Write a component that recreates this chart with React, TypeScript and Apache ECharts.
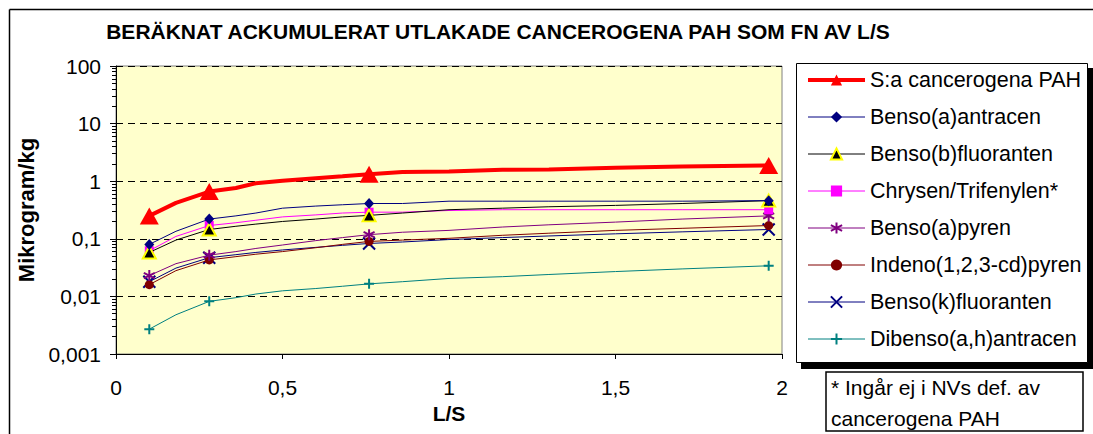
import React, { useEffect, useRef } from "react";
import * as echarts from "echarts";

const FONT = '"Liberation Sans", Arial, Helvetica, sans-serif';

const titleText = "BERÄKNAT ACKUMULERAT UTLAKADE CANCEROGENA PAH SOM FN AV L/S";
const xAxisName = "L/S";
const yAxisName = "Mikrogram/kg";
const footnoteLines = ["* Ingår ej i NVs def. av", "cancerogena PAH"];

const xTickLabels = ["0", "0,5", "1", "1,5", "2"];
const yTickLabels = ["0,001", "0,01", "0,1", "1", "10", "100"];

// L/S points of the computed curves
const LS = [0.1, 0.18, 0.28, 0.36, 0.42, 0.5, 0.6, 0.68, 0.76, 0.86, 1.0, 1.16, 1.3, 1.5, 1.7, 1.96];
// L/S points that carry a marker
const markerLS = [0.1, 0.28, 0.76, 1.96];

const seriesNames = [
  "S:a cancerogena PAH",
  "Benso(a)antracen",
  "Benso(b)fluoranten",
  "Chrysen/Trifenylen*",
  "Benso(a)pyren",
  "Indeno(1,2,3-cd)pyren",
  "Benso(k)fluoranten",
  "Dibenso(a,h)antracen",
];

const sumPAH = [0.25, 0.42, 0.66, 0.76, 0.92, 1.02, 1.13, 1.22, 1.32, 1.45, 1.48, 1.58, 1.6, 1.72, 1.8, 1.88];
const bensoAantracen = [0.08, 0.135, 0.22, 0.25, 0.28, 0.34, 0.37, 0.39, 0.41, 0.41, 0.45, 0.45, 0.45, 0.45, 0.45, 0.46];
const bensoBfluoranten = [0.058, 0.095, 0.145, 0.165, 0.18, 0.2, 0.22, 0.24, 0.255, 0.28, 0.32, 0.34, 0.36, 0.38, 0.41, 0.46];
const chrysen = [0.062, 0.11, 0.17, 0.19, 0.21, 0.24, 0.26, 0.28, 0.29, 0.29, 0.31, 0.32, 0.32, 0.32, 0.32, 0.32];
const bensoApyren = [0.023, 0.037, 0.052, 0.06, 0.068, 0.078, 0.093, 0.105, 0.118, 0.13, 0.14, 0.16, 0.175, 0.195, 0.22, 0.25];
const indenopyren = [0.016, 0.028, 0.043, 0.049, 0.054, 0.06, 0.07, 0.08, 0.09, 0.095, 0.102, 0.115, 0.125, 0.14, 0.152, 0.17];
const bensoKfluoranten = [0.018, 0.031, 0.047, 0.053, 0.058, 0.064, 0.071, 0.077, 0.083, 0.088, 0.097, 0.105, 0.112, 0.122, 0.132, 0.145];
const dibensoAHantracen = [0.0027, 0.0048, 0.0082, 0.0095, 0.011, 0.0125, 0.0137, 0.015, 0.0165, 0.018, 0.0205, 0.022, 0.024, 0.027, 0.03, 0.034];

const seriesValues = [
  sumPAH,
  bensoAantracen,
  bensoBfluoranten,
  chrysen,
  bensoApyren,
  indenopyren,
  bensoKfluoranten,
  dibensoAHantracen,
];

const ASTERISK = "path://M5,0L5,10M0.7,2.5L9.3,7.5M0.7,7.5L9.3,2.5";
const CROSS = "path://M0,0L10,10M10,0L0,10";
const PLUS = "path://M5,0L5,10M0,5L10,5";

const seriesStyles: any[] = [
  { line: "#FF0000", width: 4, symbol: "triangle", size: [19, 17], fill: "#FF0000", border: "#FF0000", bw: 0 },
  { line: "#000080", width: 1, symbol: "diamond", size: [10, 11], fill: "#000080", border: "#000080", bw: 0 },
  { line: "#000000", width: 1, symbol: "triangle", size: [13, 12], fill: "#000000", border: "#FFFF00", bw: 2 },
  { line: "#FF00FF", width: 1, symbol: "rect", size: 9, fill: "#FF00FF", border: "#FF00FF", bw: 0 },
  { line: "#800080", width: 1, symbol: ASTERISK, size: 11, fill: "#800080", border: "#800080", bw: 2 },
  { line: "#800000", width: 1, symbol: "circle", size: 9, fill: "#800000", border: "#800000", bw: 0 },
  { line: "#000080", width: 1, symbol: CROSS, size: 12, fill: "#000080", border: "#000080", bw: 2 },
  { line: "#008080", width: 1, symbol: PLUS, size: 10, fill: "#008080", border: "#008080", bw: 2 },
];

export default function App() {
  const ref = useRef<HTMLDivElement>(null);

  useEffect(() => {
    if (!ref.current) return;
    const chart = echarts.init(ref.current, undefined, { renderer: "svg" });

    const series = seriesNames.map((name, si) => {
      const st = seriesStyles[si];
      const vals = seriesValues[si];
      return {
        name,
        type: "line",
        z: 10 - si,
        symbol: st.symbol,
        symbolSize: st.size,
        showSymbol: true,
        clip: false,
        lineStyle: { color: st.line, width: st.width },
        itemStyle: { color: st.fill, borderColor: st.border, borderWidth: st.bw },
        emphasis: { disabled: true },
        data: LS.map((x, i) =>
          markerLS.includes(x)
            ? { value: [x, vals[i]] }
            : { value: [x, vals[i]], symbol: "none" }
        ),
      };
    });

    const option: any = {
      animation: false,
      grid: {
        left: 116,
        top: 66,
        right: 311,
        bottom: 80,
        show: true,
        backgroundColor: "#FFFFCC",
        borderColor: "#808080",
        borderWidth: 1,
        outerBoundsMode: "none",
        containLabel: false,
      },
      xAxis: {
        type: "value",
        min: 0,
        max: 2,
        interval: 0.5,
        name: xAxisName,
        nameLocation: "middle",
        nameGap: 48,
        nameTextStyle: { fontFamily: FONT, fontSize: 21, fontWeight: "bold", color: "#000" },
        axisLine: { show: true, onZero: false, lineStyle: { color: "#000", width: 1 } },
        axisTick: { show: true, length: 5, inside: false, lineStyle: { color: "#000" } },
        splitLine: { show: false },
        axisLabel: {
          margin: 23,
          fontFamily: FONT,
          fontSize: 21,
          color: "#000",
          formatter: (_v: number, idx: number) => xTickLabels[idx] ?? "",
        },
      },
      yAxis: {
        type: "log",
        logBase: 10,
        min: 0.001,
        max: 100,
        name: yAxisName,
        nameLocation: "middle",
        nameRotate: 90,
        nameGap: 72,
        nameTextStyle: { fontFamily: FONT, fontSize: 22, fontWeight: "bold", color: "#000" },
        axisLine: { show: true, lineStyle: { color: "#000", width: 1 } },
        axisTick: { show: true, length: 6, lineStyle: { color: "#000" } },
        minorTick: { show: true, splitNumber: 9, length: 4, lineStyle: { color: "#000" } },
        splitLine: { show: true, lineStyle: { color: "#000", width: 1, type: [7, 5] } },
        axisLabel: {
          margin: 15,
          fontFamily: FONT,
          fontSize: 21,
          color: "#000",
          formatter: (_v: number, idx: number) => yTickLabels[idx] ?? "",
        },
      },
      legend: {
        show: true,
        orient: "vertical",
        left: 806,
        top: 69,
        padding: 0,
        itemWidth: 57,
        itemHeight: 14,
        itemGap: 15,
        selectedMode: false,
        textStyle: { fontFamily: FONT, fontSize: 21.5, lineHeight: 22, color: "#000" },
        data: seriesNames.map((name, si) => ({
          name,
          lineStyle: { width: seriesStyles[si].width, color: seriesStyles[si].line },
        })),
      },
      graphic: [
        // outer chart border
        { type: "line", silent: true, shape: { x1: 9.5, y1: 9.5, x2: 1093, y2: 9.5 }, style: { stroke: "#000", lineWidth: 1.5 } },
        { type: "line", silent: true, shape: { x1: 9.5, y1: 9.5, x2: 9.5, y2: 434 }, style: { stroke: "#000", lineWidth: 1.5 } },
        // legend shadow and box
        { type: "rect", silent: true, z: 1, shape: { x: 801, y: 68, width: 292, height: 301 }, style: { fill: "#000" } },
        { type: "rect", silent: true, z: 2, shape: { x: 796.5, y: 63.5, width: 291, height: 299 }, style: { fill: "#fff", stroke: "#000", lineWidth: 1 } },
        // footnote box
        { type: "rect", silent: true, z: 2, shape: { x: 826, y: 372, width: 257, height: 59 }, style: { fill: "#fff", stroke: "#000", lineWidth: 1.5 } },
        {
          type: "text",
          silent: true,
          z: 3,
          style: { text: footnoteLines[0], x: 831, y: 387, fontFamily: FONT, fontSize: 21, fill: "#000", align: "left", verticalAlign: "middle" },
        },
        {
          type: "text",
          silent: true,
          z: 3,
          style: { text: footnoteLines[1], x: 831, y: 418, fontFamily: FONT, fontSize: 21, fill: "#000", align: "left", verticalAlign: "middle" },
        },
        // title
        {
          type: "text",
          silent: true,
          z: 3,
          style: { text: titleText, x: 498, y: 31, fontFamily: FONT, fontSize: 21, fontWeight: "bold", fill: "#000", align: "center", verticalAlign: "middle" },
        },
      ],
      series,
    };

    chart.setOption(option);
    return () => chart.dispose();
  }, []);

  return (
    <div
      ref={ref}
      style={{ position: "fixed", left: 0, top: 0, width: 1093, height: 434, background: "#fff" }}
    />
  );
}
